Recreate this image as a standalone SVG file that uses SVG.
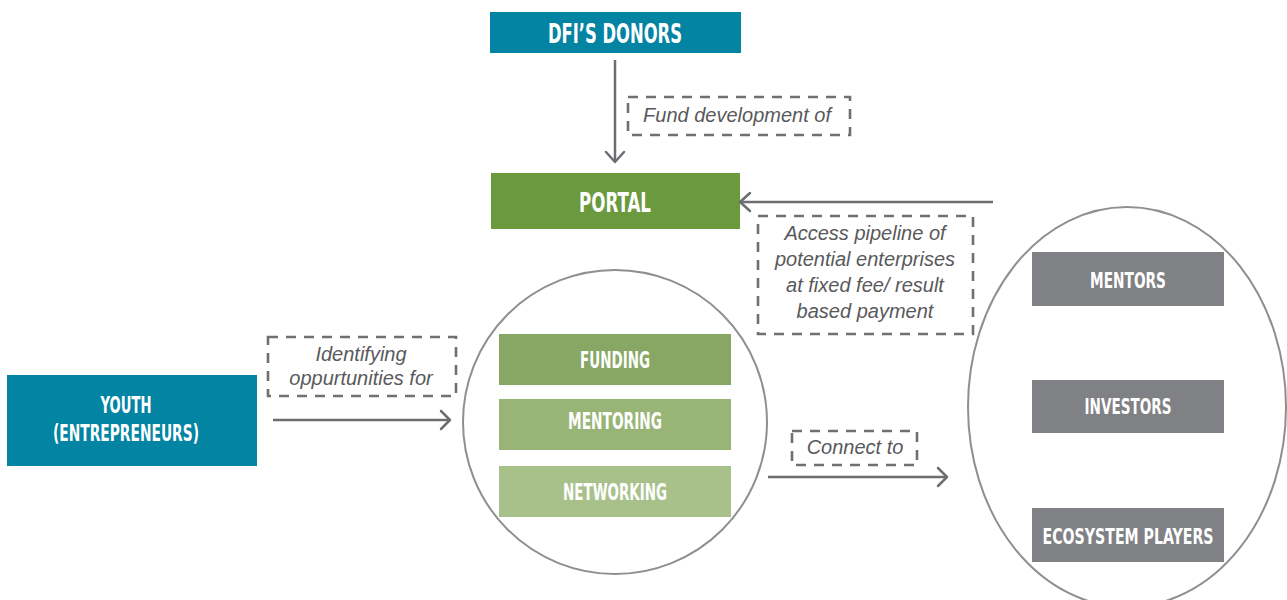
<svg xmlns="http://www.w3.org/2000/svg" width="1287" height="600" viewBox="0 0 1287 600">
<defs>
<style>
.lbl{font-family:"DejaVu Sans Condensed","DejaVu Sans",sans-serif;font-weight:bold;fill:#ffffff;text-anchor:middle}
.note{font-family:"Liberation Sans",Arial,sans-serif;font-style:italic;font-size:20px;fill:#59595c;text-anchor:middle}
.dash{fill:none;stroke:#707073;stroke-width:2.6;stroke-dasharray:10 8}
.conn{fill:none;stroke:#6d6e71;stroke-width:2.5}
.head{fill:none;stroke:#6d6e71;stroke-width:2.5;stroke-linecap:round;stroke-linejoin:round}
.ring{fill:none;stroke:#8e8f92;stroke-width:2}
</style>
</defs>
<rect width="1287" height="600" fill="#ffffff"/>

<g id="donors">
<rect x="490" y="12" width="251" height="41" fill="#0384a2"/>
<text class="lbl" x="615" y="43" font-size="27" textLength="134" lengthAdjust="spacingAndGlyphs">DFI’S DONORS</text>
</g>

<g id="portal">
<rect x="491" y="173" width="249" height="56" fill="#6a993e"/>
<text class="lbl" x="615" y="212" font-size="27" textLength="72" lengthAdjust="spacingAndGlyphs">PORTAL</text>
</g>

<g id="youth">
<rect x="7" y="375" width="250" height="91" fill="#0384a2"/>
<text class="lbl" x="126" y="413" font-size="23" textLength="51" lengthAdjust="spacingAndGlyphs">YOUTH</text>
<text class="lbl" x="126" y="441" font-size="23" textLength="146" lengthAdjust="spacingAndGlyphs">(ENTREPRENEURS)</text>
</g>

<g id="services">
<circle class="ring" cx="615" cy="422" r="152"/>
<g id="funding">
<rect x="499" y="334" width="232" height="51" fill="#88a764"/>
<text class="lbl" x="615" y="368" font-size="23" textLength="70" lengthAdjust="spacingAndGlyphs">FUNDING</text>
</g>
<g id="mentoring">
<rect x="499" y="399" width="232" height="51" fill="#98b477"/>
<text class="lbl" x="615" y="429" font-size="23" textLength="94" lengthAdjust="spacingAndGlyphs">MENTORING</text>
</g>
<g id="networking">
<rect x="499" y="466" width="232" height="51" fill="#a8c18b"/>
<text class="lbl" x="615" y="500" font-size="23" textLength="104" lengthAdjust="spacingAndGlyphs">NETWORKING</text>
</g>
</g>

<g id="ecosystem">
<ellipse class="ring" cx="1127" cy="407" rx="159" ry="200"/>
<g id="mentors">
<rect x="1032" y="252" width="192" height="54" fill="#808184"/>
<text class="lbl" x="1128" y="288" font-size="22" textLength="76" lengthAdjust="spacingAndGlyphs">MENTORS</text>
</g>
<g id="investors">
<rect x="1032" y="380" width="192" height="53" fill="#808184"/>
<text class="lbl" x="1128" y="414" font-size="22" textLength="87" lengthAdjust="spacingAndGlyphs">INVESTORS</text>
</g>
<g id="players">
<rect x="1032" y="508" width="192" height="54" fill="#808184"/>
<text class="lbl" x="1128" y="544" font-size="22" textLength="171" lengthAdjust="spacingAndGlyphs">ECOSYSTEM PLAYERS</text>
</g>
</g>

<g id="connectors">
<line class="conn" x1="615" y1="60" x2="615" y2="161"/>
<polyline class="head" points="606,152 615,162 624,152"/>
<line class="conn" x1="993" y1="202" x2="741" y2="202"/>
<polyline class="head" points="750,193 740,202 750,211"/>
<line class="conn" x1="273" y1="420" x2="449" y2="420"/>
<polyline class="head" points="441,411 450,420 441,429"/>
<line class="conn" x1="768" y1="477" x2="946" y2="477"/>
<polyline class="head" points="938,468 947,477 938,486"/>
</g>

<g id="labels">
<g id="lbl-fund">
<rect class="dash" x="628" y="97" width="222" height="38"/>
<text class="note" x="737" y="122">Fund development of</text>
</g>
<g id="lbl-access">
<rect class="dash" x="758" y="216" width="215" height="118"/>
<text class="note" x="865" y="240">Access pipeline of</text>
<text class="note" x="865" y="266">potential enterprises</text>
<text class="note" x="865" y="292">at fixed fee/ result</text>
<text class="note" x="865" y="318">based payment</text>
</g>
<g id="lbl-identify">
<rect class="dash" x="268" y="337" width="188" height="59"/>
<text class="note" x="361" y="361">Identifying</text>
<text class="note" x="361" y="385">oppurtunities for</text>
</g>
<g id="lbl-connect">
<rect class="dash" x="792" y="431" width="125" height="34"/>
<text class="note" x="855" y="454">Connect to</text>
</g>
</g>
</svg>
